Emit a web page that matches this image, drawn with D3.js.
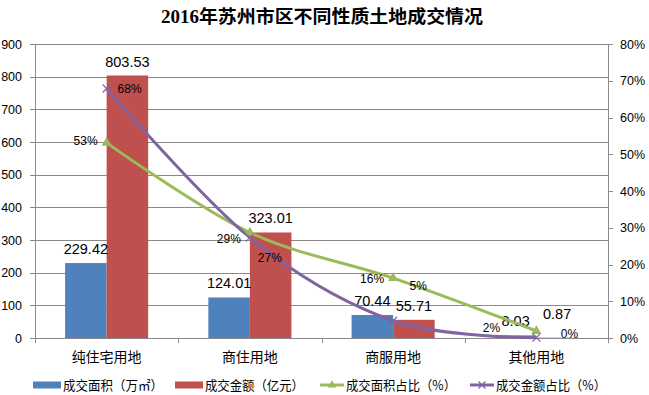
<!DOCTYPE html>
<html><head><meta charset="utf-8">
<script src="https://cdn.jsdelivr.net/npm/d3@7/dist/d3.min.js"></script>
<style>body{margin:0;background:#fff}svg{display:block}</style>
</head><body>
<svg id="c" width="649" height="395"></svg>
<script>
const title = "2016年苏州市区不同性质土地成交情况";
const categories = ["纯住宅用地", "商住用地", "商服用地", "其他用地"];
const areaValues = [229.42, 124.01, 70.44, 8.03];
const amountValues = [803.53, 323.01, 55.71, 0.87];
const areaShare = [0.531, 0.287, 0.163, 0.019];
const amountShare = [0.679, 0.273, 0.047, 0.001];
const areaShareLabels = ["53%", "29%", "16%", "2%"];
const amountShareLabels = ["68%", "27%", "5%", "0%"];
const leftTicks = [0, 100, 200, 300, 400, 500, 600, 700, 800, 900];
const rightTicks = [0, 0.1, 0.2, 0.3, 0.4, 0.5, 0.6, 0.7, 0.8];
const seriesNames = ["成交面积（万㎡）", "成交金额（亿元）", "成交面积占比（%）", "成交金额占比（%）"];

const colors = {blue: "#4F81BD", red: "#C0504D", green: "#9BBB59", purple: "#8064A2"};
const svg = d3.select("#c");
const L = 35, R = 608, T = 44, B = 338;
const font = "'Liberation Sans', Arial, 'Noto Sans CJK SC', sans-serif";
const cjk = "'Noto Sans CJK SC', sans-serif";

const x = d3.scaleBand().domain(categories).range([L, R]);
const y = d3.scaleLinear().domain([0, 900]).range([B, T]);
const y2 = d3.scaleLinear().domain([0, 0.8]).range([B, T]);
const bw = x.bandwidth() * 0.29;
const cx = c => x(c) + x.bandwidth() / 2;

// title
svg.append("text").attr("x", 322).attr("y", 23).attr("text-anchor", "middle")
  .attr("font-family", "'Liberation Serif', 'Noto Sans CJK SC', serif").attr("font-weight", "bold")
  .attr("font-size", 18).attr("textLength", 322).attr("lengthAdjust", "spacingAndGlyphs")
  .attr("fill", "#000").text(title);

// gridlines
svg.append("g").selectAll("line").data(leftTicks.slice(1)).join("line")
  .attr("x1", L).attr("x2", R).attr("y1", d => Math.round(y(d)) + 0.5).attr("y2", d => Math.round(y(d)) + 0.5)
  .attr("stroke", "#8a8a8a").attr("stroke-width", 1);

// left axis
const gl = svg.append("g").attr("transform", `translate(${L},0)`)
  .call(d3.axisLeft(y).tickValues(leftTicks).tickSize(5).tickPadding(8));
gl.selectAll("text").attr("font-family", font).attr("font-size", 12.5).attr("fill", "#000");
gl.selectAll("line,path").attr("stroke", "#8a8a8a").attr("shape-rendering", "crispEdges");

// right axis
const gr = svg.append("g").attr("transform", `translate(${R},0)`)
  .call(d3.axisRight(y2).tickValues(rightTicks).tickFormat(d3.format(".0%")).tickSize(5).tickPadding(7));
gr.selectAll("text").attr("font-family", font).attr("font-size", 12.5).attr("fill", "#000");
gr.selectAll("line,path").attr("stroke", "#8a8a8a").attr("shape-rendering", "crispEdges");

// bars
const gb = svg.append("g");
gb.selectAll(".ba").data(categories).join("rect")
  .attr("x", (c) => cx(c) - bw).attr("width", bw)
  .attr("y", (c, i) => y(areaValues[i])).attr("height", (c, i) => B - y(areaValues[i]))
  .attr("fill", colors.blue);
gb.selectAll(".bm").data(categories).join("rect").attr("class", "bm")
  .attr("x", (c) => cx(c)).attr("width", bw)
  .attr("y", (c, i) => y(amountValues[i])).attr("height", (c, i) => B - y(amountValues[i]))
  .attr("fill", colors.red);

// bottom axis
svg.append("line").attr("x1", L).attr("x2", R).attr("y1", B + 0.5).attr("y2", B + 0.5).attr("stroke", "#8a8a8a");
const bounds = d3.range(categories.length + 1).map(i => L + i * x.step());
svg.append("g").selectAll("line").data(bounds).join("line")
  .attr("x1", d => Math.round(d) + 0.5).attr("x2", d => Math.round(d) + 0.5)
  .attr("y1", B).attr("y2", B + 5).attr("stroke", "#8a8a8a");
svg.append("g").selectAll("text").data(categories).join("text")
  .attr("x", c => cx(c)).attr("y", 362).attr("text-anchor", "middle")
  .attr("font-family", cjk).attr("font-size", 14).attr("fill", "#000").text(c => c);

// bar labels
const barLabelDy = [0, 0, 0, 0];
const amtLabelDy = [0, 0, 0, -10];
svg.append("g").selectAll("text").data(categories).join("text")
  .attr("x", c => cx(c) - bw / 2).attr("y", (c, i) => y(areaValues[i]) - 9 + barLabelDy[i])
  .attr("text-anchor", "middle").attr("font-family", font).attr("font-size", 14.5).attr("fill", "#000")
  .text((c, i) => areaValues[i].toFixed(2));
svg.append("g").selectAll("text").data(categories).join("text")
  .attr("x", c => cx(c) + bw / 2).attr("y", (c, i) => y(amountValues[i]) - 9 + amtLabelDy[i])
  .attr("text-anchor", "middle").attr("font-family", font).attr("font-size", 14.5).attr("fill", "#000")
  .text((c, i) => amountValues[i].toFixed(2));

// lines
const curve = d3.curveCatmullRom.alpha(0);
const lineArea = d3.line().x((d, i) => cx(categories[i])).y(d => y2(d)).curve(curve);
svg.append("path").attr("d", lineArea(areaShare)).attr("fill", "none")
  .attr("stroke", colors.green).attr("stroke-width", 3);
svg.append("path").attr("d", lineArea(amountShare)).attr("fill", "none")
  .attr("stroke", colors.purple).attr("stroke-width", 3);

// markers
const tri = d3.symbol().type(d3.symbolTriangle).size(45);
svg.append("g").selectAll("path").data(areaShare).join("path")
  .attr("d", tri).attr("transform", (d, i) => `translate(${cx(categories[i])},${y2(d)})`)
  .attr("fill", colors.green);
svg.append("g").selectAll("path").data(amountShare).join("path")
  .attr("d", "M-4,-4L4,4M-4,4L4,-4").attr("transform", (d, i) => `translate(${cx(categories[i])},${y2(d)})`)
  .attr("stroke", colors.purple).attr("stroke-width", 1.2).attr("fill", "none");

// share labels (offsets relative to point)
const areaLabelOff = [[-21, 2], [-21, 10], [-21, 5], [-45, 1]];
const amountLabelOff = [[23, 5], [20, 24], [25, -31], [33, 0]];
svg.append("g").selectAll("text").data(areaShare).join("text")
  .attr("x", (d, i) => cx(categories[i]) + areaLabelOff[i][0]).attr("y", (d, i) => y2(d) + areaLabelOff[i][1])
  .attr("text-anchor", "middle").attr("font-family", font).attr("font-size", 12).attr("fill", "#000")
  .text((d, i) => areaShareLabels[i]);
svg.append("g").selectAll("text").data(amountShare).join("text")
  .attr("x", (d, i) => cx(categories[i]) + amountLabelOff[i][0]).attr("y", (d, i) => y2(d) + amountLabelOff[i][1])
  .attr("text-anchor", "middle").attr("font-family", font).attr("font-size", 12).attr("fill", "#000")
  .text((d, i) => amountShareLabels[i]);

// legend
const legX = [33, 175, 320, 470];
const legLen = [100, 99, 110, 110];
const lg = svg.append("g");
seriesNames.forEach((n, i) => {
  const g = lg.append("g").attr("transform", `translate(${legX[i]},385)`);
  if (i < 2) {
    g.append("rect").attr("x", 0).attr("y", -3.5).attr("width", 28).attr("height", 7)
      .attr("fill", i === 0 ? colors.blue : colors.red);
  } else {
    g.append("line").attr("x1", 0).attr("x2", 24).attr("y1", 0).attr("y2", 0)
      .attr("stroke", i === 2 ? colors.green : colors.purple).attr("stroke-width", 3);
    if (i === 2) g.append("path").attr("d", d3.symbol().type(d3.symbolTriangle).size(30)).attr("transform", "translate(12,0)").attr("fill", colors.green);
    else g.append("path").attr("d", "M-3.5,-3.5L3.5,3.5M-3.5,3.5L3.5,-3.5").attr("transform", "translate(12,0)")
      .attr("stroke", colors.purple).attr("stroke-width", 1.2);
  }
  g.append("text").attr("x", i < 2 ? 30 : 26).attr("y", 4.5).attr("font-family", cjk)
    .attr("font-size", 13).attr("textLength", legLen[i]).attr("lengthAdjust", "spacingAndGlyphs")
    .attr("fill", "#000").text(n);
});
</script>
</body></html>
